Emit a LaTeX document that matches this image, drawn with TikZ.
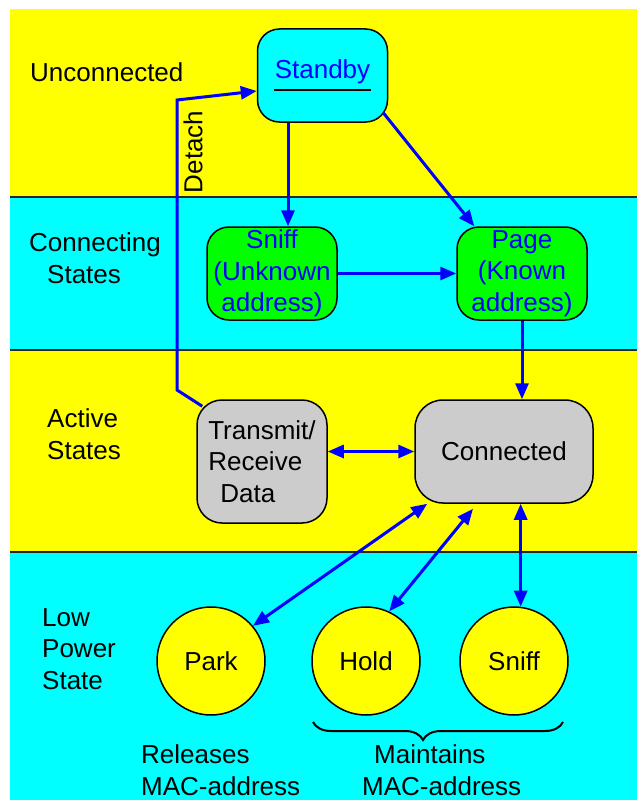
\documentclass[tikz,border=0pt]{standalone}
\usepackage{fontspec}
\setmainfont{Liberation Sans}
\usetikzlibrary{arrows.meta,decorations.pathreplacing}
\definecolor{bandyellow}{RGB}{255,255,0}
\definecolor{bandcyan}{RGB}{0,255,255}
\definecolor{boxgreen}{RGB}{0,255,0}
\definecolor{boxgray}{RGB}{204,204,204}
\tikzset{
    statebox/.style={draw, line width=1.5pt, rounded corners=22pt, align=center, inner sep=0pt},
    linkbox/.style={statebox, text=blue, minimum width=130pt, minimum height=93pt},
    lowpower/.style={circle, draw, line width=1.5pt, fill=bandyellow, minimum size=108pt, inner sep=0pt},
    bandtitle/.style={anchor=west, align=left, inner sep=0pt},
    flow/.style={-{Triangle[length=16pt,width=13pt]}, line width=3pt, blue},
    twoway/.style={flow, {Triangle[length=16pt,width=13pt]}-{Triangle[length=16pt,width=13pt]}},
    divider/.style={line width=2pt, black!85}
}
\begin{document}
\begin{tikzpicture}[x=1pt, y=-1pt, font=\fontsize{26}{31.5}\selectfont]
        \useasboundingbox (0,0) rectangle (637,800);
        % bands
        \fill[bandyellow] (10,9) rectangle (637,197);
        \fill[bandcyan] (10,197) rectangle (637,350);
        \fill[bandyellow] (10,350) rectangle (637,552);
        \fill[bandcyan] (10,552) rectangle (637,800);
        \foreach \y in {197,350,552} \draw[divider] (10,\y) -- (637,\y);

        \node[bandtitle] (unconn) at (30,72) {Unconnected};
        \node[bandtitle] (connecting) at (29,258) {Connecting\\\hspace*{18pt}States};
        \node[bandtitle] (active) at (47,434) {Active\\States};
        \node[bandtitle] (lowpow) at (42,649) {Low\\Power\\State};

        \node[linkbox, fill=bandcyan] (standby) at (322.5,75.5) {Standby\\[-18.5pt]\textcolor{black}{\rule{97pt}{2pt}}};
        \node[linkbox, fill=boxgreen] (sniffc) at (272,273.5) {Sniff\\(Unknown\\address)};
        \node[linkbox, fill=boxgreen] (page) at (522,273.5) {Page\\(Known\\address)};
        \node[statebox, fill=boxgray, rounded corners=25pt, align=left, minimum width=130pt, minimum height=123pt] (trx) at (262,461.5) {Transmit/\\Receive\\\hspace*{12pt}Data};
        \node[statebox, fill=boxgray, rounded corners=28pt, minimum width=178pt, minimum height=103pt] (conn) at (504,451.5) {Connected};

        \node[lowpower] (park) at (211,661) {Park};
        \node[lowpower] (hold) at (366,661) {Hold};
        \node[lowpower] (snf) at (514,661) {Sniff};

        \node[rotate=90, inner sep=0pt] (detach) at (193,152) {Detach};
        \coordinate (detachlow) at (177,390);
        \coordinate (detachtop) at (177,100);

        \draw[flow] ([xshift=6pt,yshift=-7pt]trx.north west) -- (detachlow) -- (detachtop) -- ([yshift=-15.5pt]standby.west);
        \draw[flow] ([xshift=-34.5pt]standby.south) -- ([xshift=-34.5pt]standby.south |- sniffc.north);
        \draw[flow] ([xshift=-5pt,yshift=10pt]standby.south east) -- ([xshift=18pt]page.north west);
        \draw[flow] (sniffc.east) -- (page.west);
        \draw[flow] (page.south) -- (page.south |- conn.north);
        \draw[twoway] (trx.east |- conn.west) -- (conn.west);
        \draw[twoway] ([xshift=13pt]conn.south west) -- (park.40);
        \draw[twoway] ([xshift=-31pt,yshift=-5pt]conn.south) -- (hold.65);
        \draw[twoway] (snf.83 |- conn.south) -- (snf.83);

        \draw[line width=2pt, decorate, decoration={brace, mirror, amplitude=18pt, aspect=0.44}] (313,722) -- (563,722);
        \node[bandtitle] (release) at (141,770) {Releases\\MAC-address};
        \node[bandtitle] (maintain) at (362,770) {\hspace*{12pt}Maintains\\MAC-address};
\end{tikzpicture}
\end{document}
